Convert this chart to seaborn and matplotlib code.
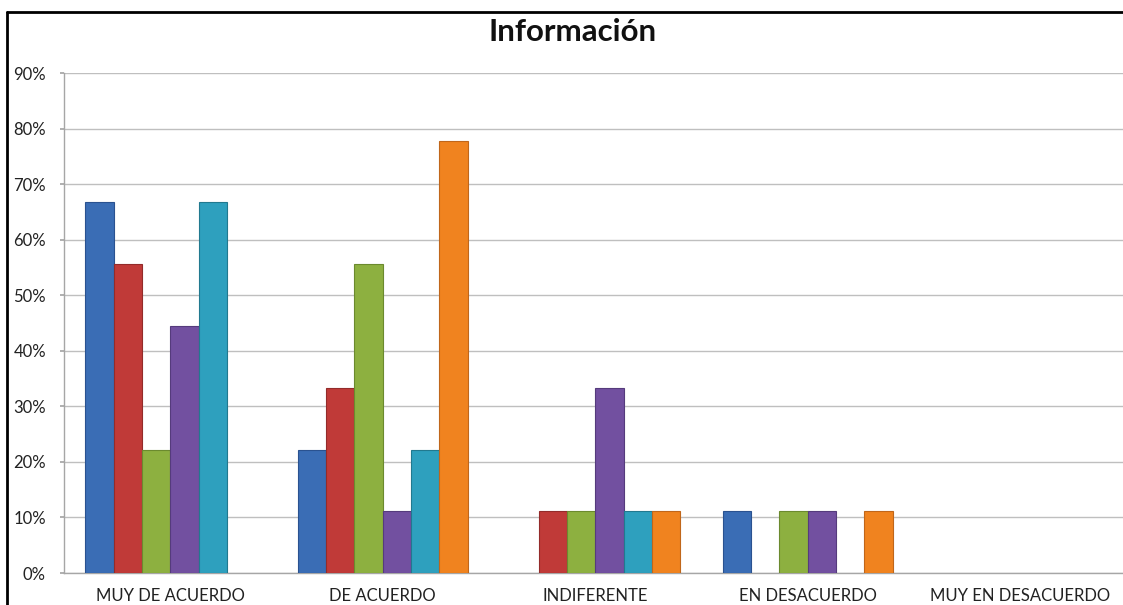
import pandas as pd
import numpy as np
import matplotlib.pyplot as plt
import seaborn as sns
from matplotlib.lines import Line2D
from matplotlib.ticker import PercentFormatter

# datos (porcentajes)
categorias = ['MUY DE ACUERDO', 'DE ACUERDO', 'INDIFERENTE', 'EN DESACUERDO', 'MUY EN DESACUERDO']
series = ['Serie 1', 'Serie 2', 'Serie 3', 'Serie 4', 'Serie 5', 'Serie 6']
serie1 = [66.7, 22.2, 0, 11.1, 0]
serie2 = [55.6, 33.3, 11.1, 0, 0]
serie3 = [22.2, 55.6, 11.1, 11.1, 0]
serie4 = [44.4, 11.1, 33.3, 11.1, 0]
serie5 = [66.7, 22.2, 11.1, 0, 0]
serie6 = [0, 77.8, 11.1, 11.1, 0]
colores = ['#3A6DB5', '#C03A38', '#8DB040', '#7250A0', '#2EA0BE', '#F0831F']
bordes = ['#2A5290', '#932B2A', '#6B8A2E', '#553B7C', '#21798F', '#C0661A']

valores = [serie1, serie2, serie3, serie4, serie5, serie6]
df = pd.DataFrame({
    'categoria': np.repeat([categorias], len(series), axis=0).ravel(),
    'serie': np.repeat(series, len(categorias)),
    'valor': np.ravel(valores),
})
df = df[df['valor'] > 0]

sns.set_theme(style='white')
plt.rcParams['font.family'] = ['Lato', 'DejaVu Sans']

fig = plt.figure(figsize=(11.23, 6.05), dpi=100)
ax = fig.add_axes([64 / 1123, 32 / 605, 1062.5 / 1123, 500 / 605])

sns.barplot(data=df, x='categoria', y='valor', hue='serie',
            order=categorias, hue_order=series, palette=colores,
            saturation=1, width=0.8, dodge=True, legend=False, ax=ax, zorder=3)

# bordes mas oscuros por serie
for cont, borde in zip(ax.containers, bordes):
    for barra in cont:
        barra.set_edgecolor(borde)
        barra.set_linewidth(0.8)

ax.set_xlim(-0.5, 4.5)
ax.set_ylim(0, 90)
ax.set_yticks(np.arange(0, 91, 10))
ax.yaxis.set_major_formatter(PercentFormatter(decimals=0))
ax.yaxis.grid(True, color='#BFBFBF', linewidth=1, zorder=0)
ax.set_axisbelow(True)
ax.set_xlabel('')
ax.set_ylabel('')

for lado in ['top', 'right']:
    ax.spines[lado].set_visible(False)
for lado in ['left', 'bottom']:
    ax.spines[lado].set_color('#A6A6A6')
    ax.spines[lado].set_linewidth(1)

ax.tick_params(axis='y', left=True, length=3, color='#A6A6A6', pad=10,
               labelsize=12, labelcolor='#222222')
ax.tick_params(axis='x', bottom=False, length=0, pad=11, labelsize=12,
               labelcolor='#222222')

fig.text(573 / 1123, 1 - 32 / 605, 'Información', ha='center', va='center',
         fontsize=22.5, fontweight='bold', color='#111111')

# marco negro del grafico
y_top = 1 - 12 / 605
x_left = 7 / 1123
fig.add_artist(Line2D([x_left, 1.0], [y_top, y_top], color='black', linewidth=2,
                      transform=fig.transFigure))
fig.add_artist(Line2D([x_left, x_left], [0, y_top], color='black', linewidth=2,
                      transform=fig.transFigure))

fig.savefig('out.png', dpi=100, facecolor='white')
